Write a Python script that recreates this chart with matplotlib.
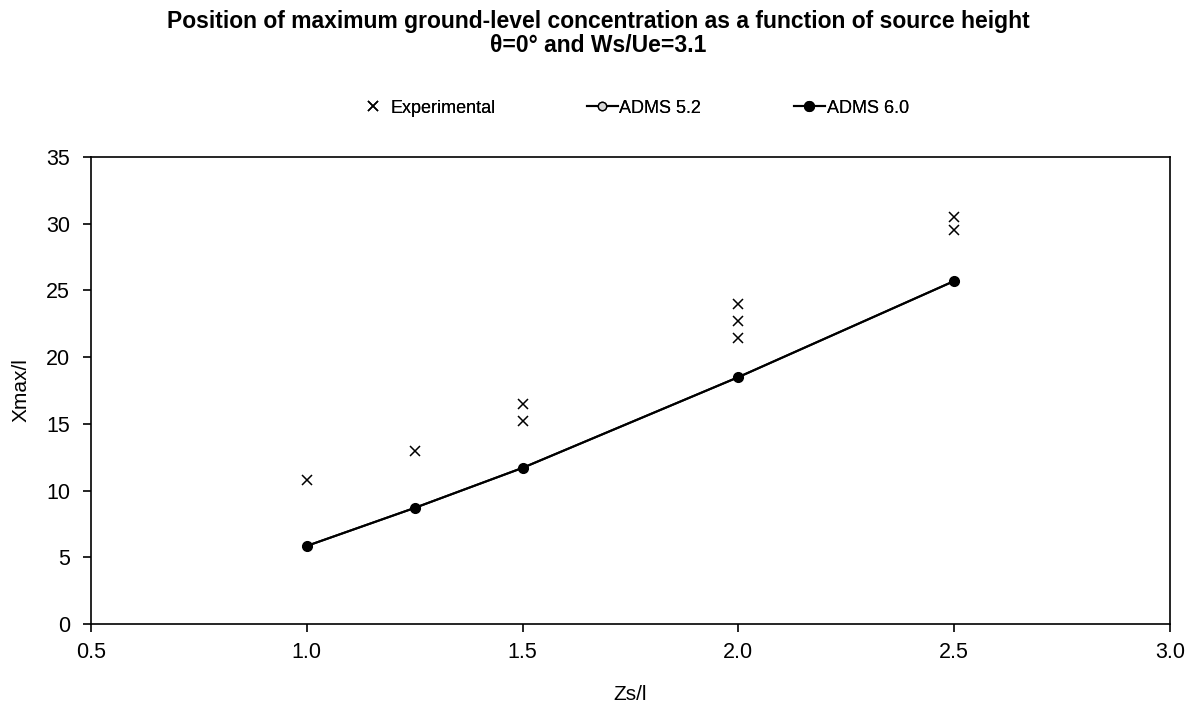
import matplotlib
matplotlib.use("Agg")
import matplotlib.pyplot as plt

plt.rcParams['font.family'] = ['Liberation Sans', 'DejaVu Sans']

# source height Zs/l and modelled Xmax/l
zs = [1.0, 1.25, 1.5, 2.0, 2.5]
adms52 = [5.85, 8.7, 11.7, 18.5, 25.7]
adms60 = [5.85, 8.7, 11.7, 18.5, 25.7]

# experimental measurements (several per source height)
exp_zs = [1.0, 1.25, 1.5, 1.5, 2.0, 2.0, 2.0, 2.5, 2.5]
exp_x = [10.8, 13.0, 16.5, 15.2, 24.0, 22.7, 21.4, 30.5, 29.5]

fig = plt.figure(figsize=(11.96, 7.07), dpi=100)
ax = fig.add_axes([0.0761, 0.1174, 0.9021, 0.6606])

h_exp, = ax.plot(exp_zs, exp_x, 'x', color='black', markersize=6.5, markeredgewidth=1.1,
                 label='Experimental')
h52, = ax.plot(zs, adms52, '-o', color='black', markerfacecolor='#d9d9d9', markersize=6,
               linewidth=1.5, label='ADMS 5.2')
h60, = ax.plot(zs, adms60, '-o', color='black', markerfacecolor='black', markersize=7,
               linewidth=1.5, label='ADMS 6.0')

ax.set_xlim(0.5, 3.0)
ax.set_ylim(0, 35)
ax.set_xticks([0.5, 1.0, 1.5, 2.0, 2.5, 3.0])
ax.set_xticklabels(['0.5', '1.0', '1.5', '2.0', '2.5', '3.0'])
ax.set_yticks(range(0, 36, 5))
ax.tick_params(axis='both', labelsize=15.5, length=6, width=1.2, direction='out')
ax.tick_params(axis='x', pad=7)
ax.tick_params(axis='y', pad=9)
for s in ax.spines.values():
    s.set_linewidth(1.2)

ax.set_xlabel('Zs/l', fontsize=15, labelpad=16)
ax.set_ylabel('Xmax/l', fontsize=15, labelpad=11)

fig.text(0.5, 0.969, 'Position of maximum ground-level concentration as a function of source height',
         ha='center', va='center', fontsize=16.5, fontweight='bold')
fig.text(0.5, 0.936, '\u03b8=0\u00b0 and Ws/Ue=3.1',
         ha='center', va='center', fontsize=16.5, fontweight='bold')

# Excel-style legend: three entries placed separately along one row
for h, x0 in [(h_exp, 0.2993), (h52, 0.4908), (h60, 0.6639)]:
    leg = fig.legend(handles=[h], loc='center left', bbox_to_anchor=(x0, 0.847),
                     frameon=False, fontsize=13, handlelength=1.7,
                     handletextpad=0.1, borderpad=0, borderaxespad=0)
    fig.add_artist(leg)

fig.savefig('out.png', dpi=100)
